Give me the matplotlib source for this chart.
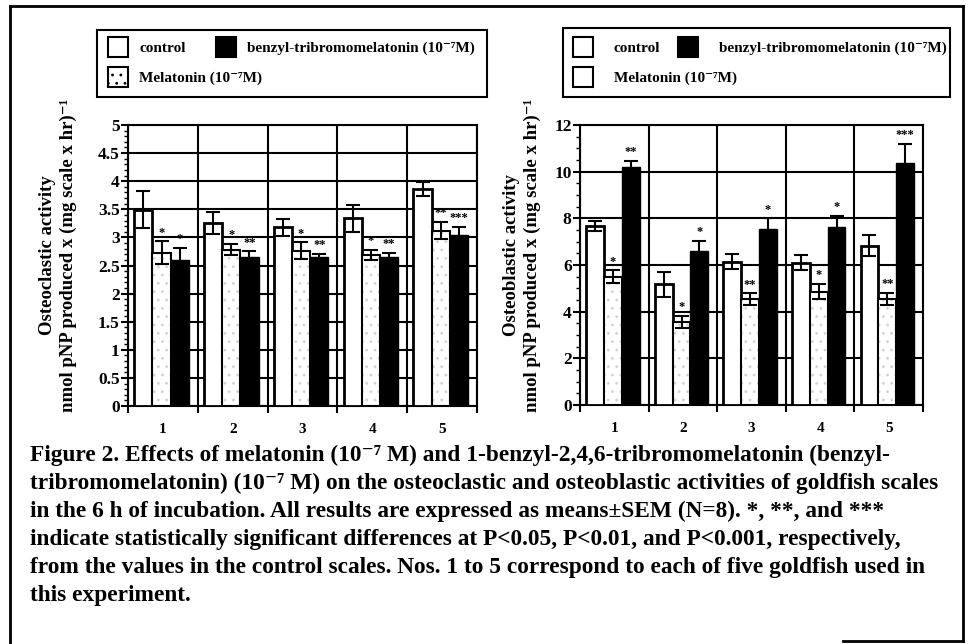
import matplotlib
matplotlib.use("Agg")
import matplotlib.pyplot as plt
from matplotlib.patches import Rectangle
from matplotlib.lines import Line2D
import numpy as np

plt.rcParams["font.family"] = ["Liberation Serif", "DejaVu Serif"]
plt.rcParams["font.weight"] = "bold"
plt.rcParams["hatch.linewidth"] = 0.8

fish = ["1", "2", "3", "4", "5"]

# osteoclastic activity
clast_ctrl = [3.49, 3.26, 3.18, 3.34, 3.86]
clast_ctrl_err = [0.33, 0.20, 0.15, 0.24, 0.13]
clast_mel = [2.73, 2.78, 2.76, 2.69, 3.12]
clast_mel_err = [0.20, 0.10, 0.15, 0.09, 0.15]
clast_bz = [2.60, 2.65, 2.65, 2.65, 3.05]
clast_bz_err = [0.22, 0.10, 0.06, 0.07, 0.13]
clast_mel_sig = ["*", "*", "*", "*", "**"]
clast_bz_sig = ["*", "**", "**", "**", "***"]

# osteoblastic activity
blast_ctrl = [7.67, 5.17, 6.14, 6.10, 6.83]
blast_ctrl_err = [0.20, 0.55, 0.33, 0.32, 0.46]
blast_mel = [5.50, 3.57, 4.53, 4.86, 4.54]
blast_mel_err = [0.27, 0.25, 0.25, 0.32, 0.25]
blast_bz = [10.19, 6.61, 7.54, 7.64, 10.36]
blast_bz_err = [0.27, 0.43, 0.46, 0.47, 0.83]
blast_mel_sig = ["*", "*", "**", "*", "**"]
blast_bz_sig = ["**", "*", "*", "*", "***"]

legend_labels = ["control", "Melatonin (10\u207b\u2077M)", "benzyl-tribromomelatonin (10\u207b\u2077M)"]

caption = [
    "Figure 2. Effects of melatonin (10\u207b\u2077 M) and 1-benzyl-2,4,6-tribromomelatonin (benzyl-",
    "tribromomelatonin) (10\u207b\u2077 M) on the osteoclastic and osteoblastic activities of goldfish scales",
    "in the 6 h of incubation. All results are expressed as means\u00b1SEM (N=8). *, **, and ***",
    "indicate statistically significant differences at P<0.05, P<0.01, and P<0.001, respectively,",
    "from the values in the control scales. Nos. 1 to 5 correspond to each of five goldfish used in",
    "this experiment.",
]

W, H = 969, 644
fig = plt.figure(figsize=(W / 100, H / 100), dpi=100)


def box(x0, y0, x1, y1):
    return [x0 / W, 1 - y1 / H, (x1 - x0) / W, (y1 - y0) / H]


def draw(ax, ctrl, ce, mel, me, bz, be, msig, bsig, ymax, major, minor):
    x = np.arange(1, len(fish) + 1)
    w = 0.26
    ekw = dict(ecolor="black", elinewidth=1.5, capsize=5, capthick=1.5, zorder=5)
    ax.bar(x - 0.28, ctrl, w, color="white", edgecolor="black", lw=2, zorder=3)
    ax.bar(x - 0.02, mel, w, color="white", hatch="..", edgecolor="#d2d2d2", lw=0, zorder=3)
    ax.bar(x - 0.02, mel, w, fill=False, edgecolor="black", lw=1.5, zorder=4)
    ax.bar(x + 0.24, bz, w, color="black", edgecolor="black", lw=1, zorder=3)
    ax.errorbar(x - 0.28, ctrl, yerr=ce, fmt="none", **ekw)
    ax.errorbar(x - 0.02, mel, yerr=me, fmt="none", **ekw)
    ax.errorbar(x + 0.24, bz, yerr=be, fmt="none", **ekw)
    pad = ymax * 0.01
    for i in range(len(fish)):
        ax.text(x[i] - 0.02, mel[i] + me[i] + pad, msig[i], ha="center", va="bottom", fontsize=9)
        ax.text(x[i] + 0.24, bz[i] + be[i] + pad, bsig[i], ha="center", va="bottom", fontsize=9)
    ax.set_xlim(0.5, len(fish) + 0.5)
    ax.set_ylim(0, ymax)
    ax.set_xticks(np.arange(0.5, len(fish) + 1))
    ax.set_xticklabels([])
    ax.set_xticks(x, minor=True)
    ax.set_xticklabels(fish, minor=True, fontsize=11)
    ax.tick_params(axis="x", which="minor", length=0, pad=12)
    ax.tick_params(axis="x", which="major", length=5, width=1.5, direction="out")
    ax.set_yticks(np.arange(0, ymax + 1e-9, major))
    ax.set_yticks(np.arange(0, ymax + 1e-9, minor), minor=True)
    ax.set_yticklabels([f"{v:g}" for v in np.arange(0, ymax + 1e-9, major)], fontsize=12.5)
    ax.tick_params(axis="y", which="major", length=5, width=1.5, pad=1)
    ax.tick_params(axis="y", which="minor", length=3, width=1)
    ax.grid(True, which="major", color="black", lw=1.5, zorder=1)
    for s in ax.spines.values():
        s.set_linewidth(1.5)
    ax.set_axisbelow(True)


ax1 = fig.add_axes(box(128, 125, 477, 406))
draw(ax1, clast_ctrl, clast_ctrl_err, clast_mel, clast_mel_err, clast_bz, clast_bz_err,
     clast_mel_sig, clast_bz_sig, 5, 0.5, 0.1)
ax2 = fig.add_axes(box(580, 125, 923, 405))
draw(ax2, blast_ctrl, blast_ctrl_err, blast_mel, blast_mel_err, blast_bz, blast_bz_err,
     blast_mel_sig, blast_bz_sig, 12, 2, 0.5)

fig.text(58 / W, 1 - 255 / H, "Osteoclastic activity\nnmol pNP produced x (mg scale x hr)\u207b\u00b9",
         rotation=90, ha="center", va="center", fontsize=13.5, linespacing=1.3)
fig.text(522 / W, 1 - 255 / H, "Osteoblastic activity\nnmol pNP produced x (mg scale x hr)\u207b\u00b9",
         rotation=90, ha="center", va="center", fontsize=13.5, linespacing=1.3)


# hand-placed legends (items overlap columns, as in the original)
def legend(frame, ctrl_x, bz_x, text_gap, stipple):
    x0, y0, x1, y1 = frame
    fig.add_artist(Rectangle((x0 / W, 1 - y1 / H), (x1 - x0) / W, (y1 - y0) / H,
                             transform=fig.transFigure, fill=False, edgecolor="black", lw=1.5))
    items = [(ctrl_x, 37, "white", None, legend_labels[0]),
             (ctrl_x, 67, "white", stipple, legend_labels[1]),
             (bz_x, 37, "black", None, legend_labels[2])]
    for hx, hy, fc, hatch, lab in items:
        fig.add_artist(Rectangle((hx / W, 1 - (hy + 20) / H), 20 / W, 20 / H,
                                 transform=fig.transFigure, facecolor=fc, edgecolor="black",
                                 lw=1.5, hatch=hatch))
        fig.text((hx + 20 + text_gap) / W, 1 - (hy + 11) / H, lab, ha="left", va="center",
                 fontsize=11)


legend((97, 30, 487, 97), 108, 216, 11, "..")
legend((563, 28, 950, 97), 573, 678, 21, None)

for i, line in enumerate(caption):
    fig.text(30 / W, 1 - (455 + 28 * i) / H, line, ha="left", va="center", fontsize=16.8)

# outer frame
frame = dict(color="black", lw=2, transform=fig.transFigure)
fig.add_artist(Line2D([10 / W, 10 / W], [0, 1 - 6 / H], **frame))
fig.add_artist(Line2D([10 / W, 963 / W], [1 - 6 / H, 1 - 6 / H], **frame))
fig.add_artist(Line2D([963 / W, 963 / W], [1 - 6 / H, 1 - 641 / H], **frame))
fig.add_artist(Line2D([843 / W, 963 / W], [1 - 641 / H, 1 - 641 / H], **frame))

fig.savefig("out.png", dpi=100)
